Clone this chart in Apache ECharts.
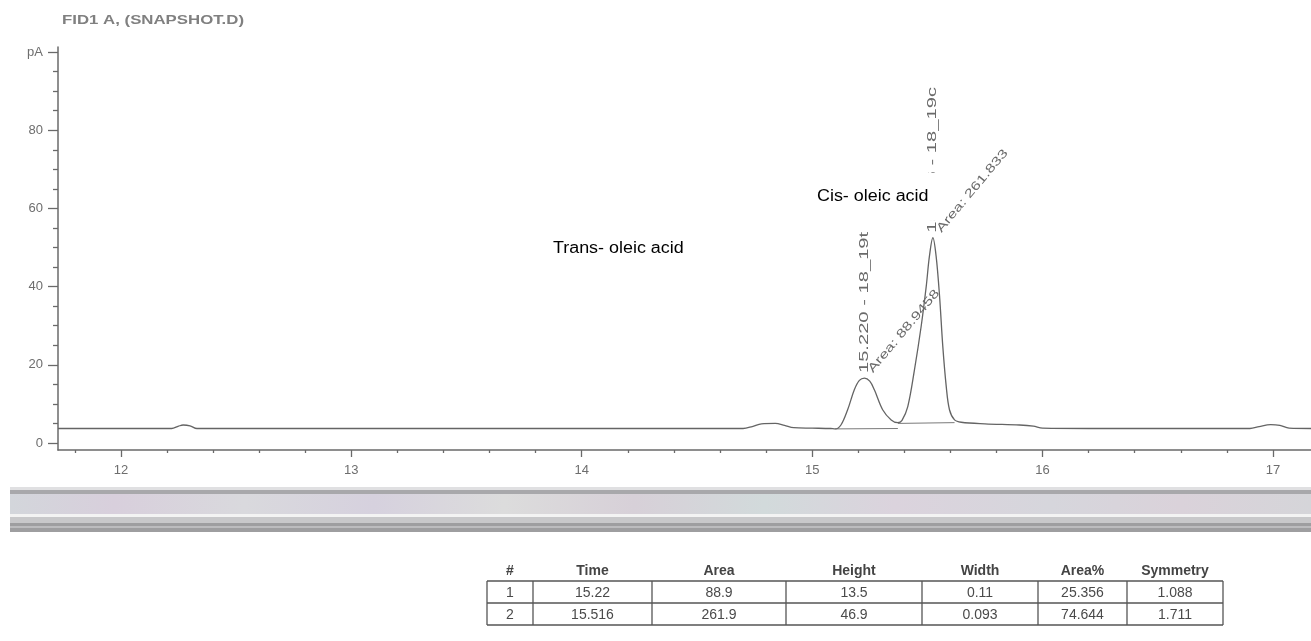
<!DOCTYPE html>
<html><head><meta charset="utf-8">
<script src="https://cdn.jsdelivr.net/npm/echarts@6/dist/echarts.min.js"></script>
<style>html,body{margin:0;padding:0;background:#fff}#c{width:1311px;height:641px}</style>
</head><body><div id="c"></div>
<script>
// ---------- data ----------
const chartTitle = 'FID1 A, (SNAPSHOT.D)';
const yUnit = 'pA';
const xMajorTicks = [12, 13, 14, 15, 16, 17];
const xMinorTicks = [11.8, 12.2, 12.4, 12.6, 12.8, 13.2, 13.4, 13.6, 13.8, 14.2, 14.4, 14.6, 14.8,
                     15.2, 15.4, 15.6, 15.8, 16.2, 16.4, 16.6, 16.8];
const yLabelTicks = [0, 20, 40, 60, 80, 100];
const yMinorTicks = [5, 10, 15, 25, 30, 35, 45, 50, 55, 65, 70, 75, 85, 90, 95];

const retentionTime = [11.727, 12.0, 12.22, 12.25, 12.27, 12.30, 12.33, 12.6, 13.0, 13.5, 14.0, 14.5, 14.70,
  14.74, 14.78, 14.84, 14.88, 14.92, 15.0, 15.08, 15.10, 15.125, 15.154, 15.183, 15.205, 15.227,
  15.25, 15.27, 15.306, 15.343, 15.372, 15.39, 15.415, 15.444, 15.473, 15.495, 15.509, 15.524,
  15.538, 15.553, 15.567, 15.582, 15.596, 15.618, 15.647, 15.75, 15.9, 15.96, 16.0, 16.2, 16.6,
  16.9, 16.94, 16.99, 17.03, 17.07, 17.165];
const signal = [3.7, 3.7, 3.7, 4.3, 4.6, 4.4, 3.7, 3.7, 3.7, 3.7, 3.7, 3.7, 3.7,
  4.2, 4.9, 5.0, 4.5, 3.9, 3.8, 3.7, 3.6, 4.6, 8.5, 13.6, 16.0, 16.6,
  15.8, 13.6, 8.5, 5.9, 5.2, 5.8, 9.3, 18.7, 29.8, 40.0, 47.8, 52.5,
  47.8, 37.5, 24.7, 14.4, 8.5, 5.9, 5.3, 4.9, 4.6, 4.3, 3.8, 3.7, 3.7,
  3.7, 4.2, 4.7, 4.5, 3.8, 3.7];

const baseline1Time = [15.10, 15.372];
const baseline1Value = [3.6, 3.7];
const baseline2Time = [15.372, 15.618];
const baseline2Value = [5.0, 5.2];

const peakTimes = [15.227, 15.524];
const peakApex = [16.6, 52.5];
const peakNames = ['15.220 - 18_19t', '15.516 - 18_19c'];
const peakAreas = ['Area: 88.9458', 'Area: 261.833'];
const compoundNames = ['Trans- oleic acid', 'Cis- oleic acid'];

const tableHeader = ['#', 'Time', 'Area', 'Height', 'Width', 'Area%', 'Symmetry'];
const tableRow1 = ['1', '15.22', '88.9', '13.5', '0.11', '25.356', '1.088'];
const tableRow2 = ['2', '15.516', '261.9', '46.9', '0.093', '74.644', '1.711'];

// ---------- chart ----------
const chart = echarts.init(document.getElementById('c'), null, {renderer: 'canvas'});
const AX = '#6a6a6a', TX = '#6e6e6e', FONT = '"Liberation Sans", Arial, sans-serif';
const XMIN = 11.727, XMAX = 17.165, YMIN = -1.8, YMAX = 101.3;

const option = {
  animation: false,
  backgroundColor: '#ffffff',
  grid: {left: 58, right: 0, top: 47, bottom: 191, containLabel: false},
  xAxis: [{
    type: 'value', min: XMIN, max: XMAX, position: 'bottom',
    axisLine: {show: true, onZero: false, lineStyle: {color: AX, width: 1.5}},
    axisTick: {show: true, length: 7, customValues: xMajorTicks, lineStyle: {color: AX, width: 1.3}},
    axisLabel: {show: true, customValues: xMajorTicks, margin: 14, color: TX, fontSize: 13, fontFamily: FONT},
    splitLine: {show: false}
  }, {
    type: 'value', min: XMIN, max: XMAX, position: 'bottom',
    axisLine: {show: false, onZero: false},
    axisTick: {show: true, length: 3, customValues: xMinorTicks, lineStyle: {color: AX, width: 1.3}},
    axisLabel: {show: false}, splitLine: {show: false}
  }],
  yAxis: [{
    type: 'value', min: YMIN, max: YMAX, position: 'left',
    axisLine: {show: true, onZero: false, lineStyle: {color: AX, width: 1.5}},
    axisTick: {show: true, length: 10, customValues: yLabelTicks, lineStyle: {color: AX, width: 1.3}},
    axisLabel: {show: true, customValues: yLabelTicks, margin: 15, color: TX, fontSize: 13, fontFamily: FONT,
      formatter: v => (v === 100 ? yUnit : String(v))},
    splitLine: {show: false}
  }, {
    type: 'value', min: YMIN, max: YMAX, position: 'left',
    axisLine: {show: false, onZero: false},
    axisTick: {show: true, length: 5, customValues: yMinorTicks, lineStyle: {color: AX, width: 1.3}},
    axisLabel: {show: false}, splitLine: {show: false}
  }],
  series: [{
    type: 'line', name: 'FID1 A', xAxisIndex: 0, yAxisIndex: 0, showSymbol: false, smooth: 0.35,
    data: retentionTime.map((t, i) => [t, signal[i]]),
    lineStyle: {color: '#646464', width: 1.3}, z: 3
  }, {
    type: 'line', name: 'bl1', showSymbol: false,
    data: baseline1Time.map((t, i) => [t, baseline1Value[i]]),
    lineStyle: {color: '#7a7a7a', width: 1}, z: 2
  }, {
    type: 'line', name: 'bl2', showSymbol: false,
    data: baseline2Time.map((t, i) => [t, baseline2Value[i]]),
    lineStyle: {color: '#7a7a7a', width: 1}, z: 2
  }]
};
chart.setOption(option);

const px = (x, y) => chart.convertToPixel({xAxisIndex: 0, yAxisIndex: 0}, [x, y]);
function txt(x, y, s, o) {
  o = o || {};
  return {type: 'text', x: x, y: y, rotation: o.rot || 0, scaleX: o.sx || 1, z: o.z || 20,
    style: {text: s, fill: o.fill || '#6a6a6a', font: o.font || ('12px ' + FONT),
      align: o.align || 'left', verticalAlign: o.va || 'middle',
      textAlign: o.align || 'left', textVerticalAlign: o.va || 'middle'}};
}
const g = [];

// title
g.push(txt(62, 21, chartTitle, {fill: '#808080', font: 'bold 12px ' + FONT, sx: 1.4}));

// peak annotations
const rotArea = 50 * Math.PI / 180;
peakTimes.forEach((t, i) => {
  const p = px(t, peakApex[i]);
  g.push(txt(p[0], p[1] - 5, peakNames[i], {rot: Math.PI / 2, sx: 1.68}));
  g.push(txt(p[0] + 6, p[1] - 7, peakAreas[i], {rot: rotArea, sx: 1.38}));
});

// compound names (Cis with white box)
const trP = px(13.875, 49.6);
g.push(txt(trP[0], trP[1], compoundNames[0], {fill: '#000', font: '16px ' + FONT, sx: 1.12, z: 40}));
const ciP = px(15.021, 63.0);
g.push({type: 'rect', shape: {x: ciP[0] - 4, y: ciP[1] - 24, width: 132, height: 48}, style: {fill: '#fff'}, z: 35});
g.push(txt(ciP[0], ciP[1], compoundNames[1], {fill: '#000', font: '16px ' + FONT, sx: 1.12, z: 40}));

// gray band
const bandX = 10, bandW = 1311 - 10;
const pastel = new echarts.graphic.LinearGradient(0, 0, 1, 0, [
  {offset: 0, color: '#d3d6db'}, {offset: 0.08, color: '#d8cfdc'}, {offset: 0.18, color: '#d9d9dd'},
  {offset: 0.28, color: '#d6d1de'}, {offset: 0.38, color: '#dcdcdc'}, {offset: 0.48, color: '#d7d0d8'},
  {offset: 0.58, color: '#d2dadb'}, {offset: 0.68, color: '#dbd3dd'}, {offset: 0.8, color: '#d6d6dc'},
  {offset: 0.9, color: '#dad2da'}, {offset: 1, color: '#d5d5d9'}]);
g.push({type: 'rect', shape: {x: bandX, y: 487, width: bandW, height: 45}, style: {fill: '#cfcfd2'}, z: 1});
g.push({type: 'rect', shape: {x: bandX, y: 487, width: bandW, height: 3}, style: {fill: '#e0e0e2'}, z: 2});
g.push({type: 'rect', shape: {x: bandX, y: 490, width: bandW, height: 4}, style: {fill: '#a8a8ab'}, z: 2});
g.push({type: 'rect', shape: {x: bandX, y: 494, width: bandW, height: 20}, style: {fill: pastel}, z: 2});
g.push({type: 'rect', shape: {x: bandX, y: 514, width: bandW, height: 3}, style: {fill: '#f3f3f3'}, z: 2});
g.push({type: 'rect', shape: {x: bandX, y: 517, width: bandW, height: 6}, style: {fill: '#c8c8ca'}, z: 2});
g.push({type: 'rect', shape: {x: bandX, y: 523, width: bandW, height: 9}, style: {fill: '#9e9ea0'}, z: 2});
g.push({type: 'rect', shape: {x: bandX, y: 526, width: bandW, height: 2}, style: {fill: '#bcbcbe'}, z: 3});

// table
const colX = [487, 533, 652, 786, 922, 1038, 1127, 1223];
const headY = 571, rowTop = 581, rowH = 22;
const TC = '#4a4a4a';
tableHeader.forEach((h, j) => {
  g.push(txt((colX[j] + colX[j + 1]) / 2, headY, h, {align: 'center', fill: '#444', font: 'bold 14px ' + FONT}));
});
[tableRow1, tableRow2].forEach((row, r) => {
  row.forEach((v, j) => {
    g.push(txt((colX[j] + colX[j + 1]) / 2, rowTop + rowH * r + rowH / 2 + 1, v,
      {align: 'center', fill: TC, font: '14px ' + FONT}));
  });
});
const ls = {stroke: '#555', lineWidth: 1.3};
for (let r = 0; r <= 2; r++) {
  g.push({type: 'line', shape: {x1: colX[0], y1: rowTop + r * rowH, x2: colX[7], y2: rowTop + r * rowH}, style: ls, z: 5});
}
colX.forEach(x => {
  g.push({type: 'line', shape: {x1: x, y1: rowTop, x2: x, y2: rowTop + 2 * rowH}, style: ls, z: 5});
});

chart.setOption({graphic: {elements: g}});
</script>
</body></html>
